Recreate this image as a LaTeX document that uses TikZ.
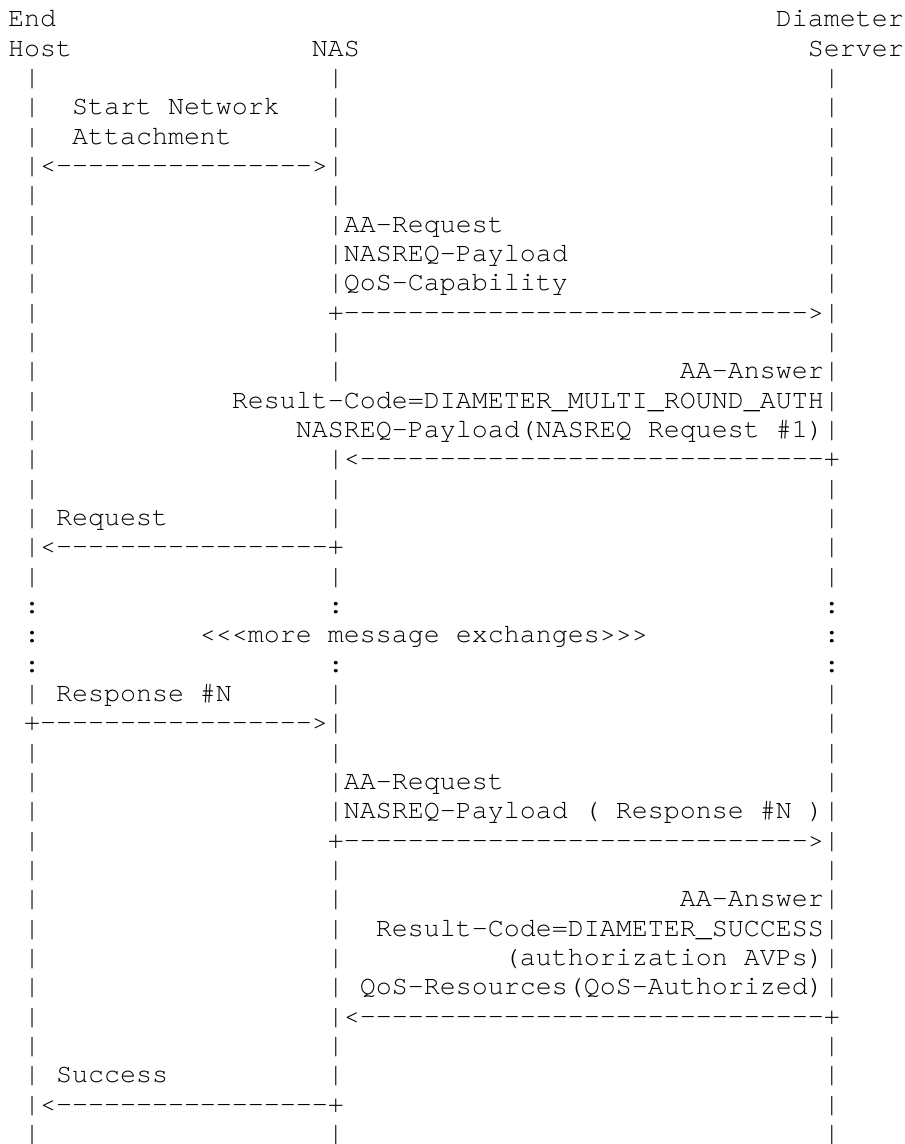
\documentclass[tikz,border=0pt]{standalone}
\usepackage{fontspec}
\setmonofont{texgyrecursor-regular.otf}
\newcommand\colsp[1]{\kern#1\fontcharwd\font`0\relax}
\newcommand\dashrun[1]{\foreach \k in {1,...,#1}{-}}
\newcommand\lifelines{\colsp{1}|\colsp{18}|\colsp{30}|}
\tikzset{
  asciirow/.style={anchor=base west, inner sep=0pt, outer sep=0pt,
    font=\ttfamily\fontsize{12}{13.2}\selectfont\frenchspacing},
}
\newcommand\asciiline[2]{\node[asciirow] (r#1) at (0.5,#1+0.909) {#2};}
\begin{document}
\begin{tikzpicture}[x=7.2pt,y=-13.2pt]
\fill[white] (0,0) rectangle (56.5625,39);
\useasboundingbox (0,0) rectangle (56.5625,39);
\asciiline{0}{End\colsp{45}Diameter}
\asciiline{1}{Host\colsp{15}NAS\colsp{28}Server}
\asciiline{2}{\lifelines}
\asciiline{3}{\colsp{1}|\colsp{2}Start Network\colsp{3}|\colsp{30}|}
\asciiline{4}{\colsp{1}|\colsp{2}Attachment\colsp{6}|\colsp{30}|}
\asciiline{5}{\colsp{1}|<\dashrun{16}>|\colsp{30}|}
\asciiline{6}{\lifelines}
\asciiline{7}{\colsp{1}|\colsp{18}|AA-Request\colsp{20}|}
\asciiline{8}{\colsp{1}|\colsp{18}|NASREQ-Payload\colsp{16}|}
\asciiline{9}{\colsp{1}|\colsp{18}|QoS-Capability\colsp{16}|}
\asciiline{10}{\colsp{1}|\colsp{18}+\dashrun{29}>|}
\asciiline{11}{\lifelines}
\asciiline{12}{\colsp{1}|\colsp{18}|\colsp{21}AA-Answer|}
\asciiline{13}{\colsp{1}|\colsp{12}Result-Code=DIAMETER\_MULTI\_ROUND\_AUTH|}
\asciiline{14}{\colsp{1}|\colsp{16}NASREQ-Payload(NASREQ Request \#1)|}
\asciiline{15}{\colsp{1}|\colsp{18}|<\dashrun{29}+}
\asciiline{16}{\lifelines}
\asciiline{17}{\colsp{1}|\colsp{1}Request\colsp{10}|\colsp{30}|}
\asciiline{18}{\colsp{1}|<\dashrun{17}+\colsp{30}|}
\asciiline{19}{\lifelines}
\asciiline{20}{\colsp{1}:\colsp{18}:\colsp{30}:}
\asciiline{21}{\colsp{1}:\colsp{10}<<<more message exchanges>>>\colsp{11}:}
\asciiline{22}{\colsp{1}:\colsp{18}:\colsp{30}:}
\asciiline{23}{\colsp{1}|\colsp{1}Response \#N\colsp{6}|\colsp{30}|}
\asciiline{24}{\colsp{1}+\dashrun{17}>|\colsp{30}|}
\asciiline{25}{\lifelines}
\asciiline{26}{\colsp{1}|\colsp{18}|AA-Request\colsp{20}|}
\asciiline{27}{\colsp{1}|\colsp{18}|NASREQ-Payload ( Response \#N )|}
\asciiline{28}{\colsp{1}|\colsp{18}+\dashrun{29}>|}
\asciiline{29}{\lifelines}
\asciiline{30}{\colsp{1}|\colsp{18}|\colsp{21}AA-Answer|}
\asciiline{31}{\colsp{1}|\colsp{18}|\colsp{2}Result-Code=DIAMETER\_SUCCESS|}
\asciiline{32}{\colsp{1}|\colsp{18}|\colsp{10}(authorization AVPs)|}
\asciiline{33}{\colsp{1}|\colsp{18}|\colsp{1}QoS-Resources(QoS-Authorized)|}
\asciiline{34}{\colsp{1}|\colsp{18}|<\dashrun{29}+}
\asciiline{35}{\lifelines}
\asciiline{36}{\colsp{1}|\colsp{1}Success\colsp{10}|\colsp{30}|}
\asciiline{37}{\colsp{1}|<\dashrun{17}+\colsp{30}|}
\asciiline{38}{\lifelines}
\end{tikzpicture}
\end{document}
